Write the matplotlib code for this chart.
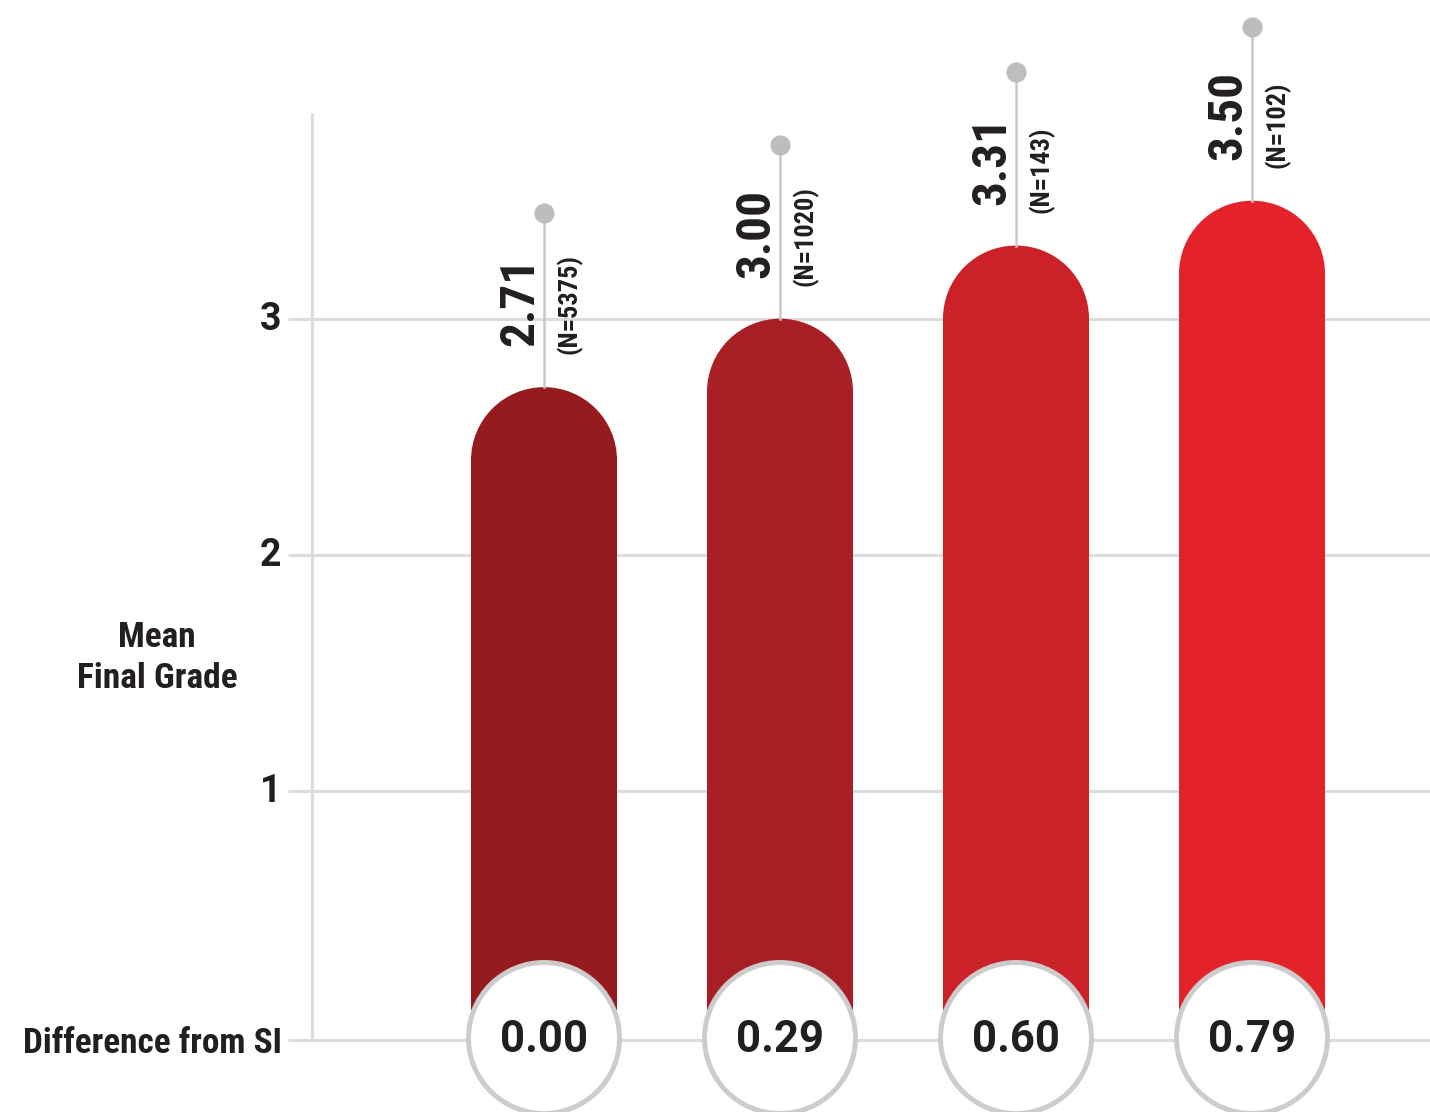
import matplotlib
matplotlib.use("Agg")
import matplotlib.pyplot as plt
from matplotlib import font_manager
from matplotlib.patches import Wedge, Circle

# ---- data -------------------------------------------------------------
groups = ["SI", "A", "B", "C"]
mean_grade = [2.71, 3.00, 3.31, 3.50]
n_students = [5375, 1020, 143, 102]
diff_from_si = [0.00, 0.29, 0.60, 0.79]
y_ticks = [1, 2, 3]
bar_colors = ["#951B1F", "#A81F25", "#CC2129", "#E32229"]

# ---- fonts ------------------------------------------------------------
installed = {f.name for f in font_manager.fontManager.ttflist}
wide = "Roboto" if "Roboto" in installed else "DejaVu Sans"
narrow = next((f for f in ("Roboto Condensed", "Liberation Sans Narrow")
               if f in installed), None)
if narrow is None:
    # no condensed face available: use the regular face a bit smaller
    narrow = wide
    SZ_VALUE, SZ_N, SZ_CAP, SZ_DIFF = 33, 16.5, 23.5, 23
else:
    SZ_VALUE, SZ_N, SZ_CAP, SZ_DIFF = 35.5, 19, 25.5, 25.4

TEXT = "#231F20"
GRID = "#DCDCDC"

# ---- canvas: one data unit = 236 px on both axes ------------------------
W, H, DPI = 1430, 1112, 100
U = 236.0
x0_px, y0_px = 544.0, 1026.7            # pixel position of (group 0, grade 0)

fig = plt.figure(figsize=(W / DPI, H / DPI), dpi=DPI)
ax = fig.add_axes([0, 0, 1, 1])
ax.set_xlim(-x0_px / U, (W - x0_px) / U)
ax.set_ylim((y0_px - H) / U, y0_px / U)
ax.axis("off")

def px(v):
    return v / U

xs = list(range(len(groups)))
base_y = px(y0_px - 1040)               # level of the bottom rule
axis_x = px(312 - x0_px)
grid_x0 = px(288 - x0_px)
right_x = px(W - x0_px)

# gridlines and y axis
for t in y_ticks:
    ax.plot([grid_x0, right_x], [t, t], color=GRID, lw=2.2, zorder=1,
            solid_capstyle="butt")
    ax.text(px(281 - x0_px), t - px(11.5), str(t), ha="right", va="baseline",
            fontsize=27, fontweight="bold", color=TEXT, family=wide)
ax.plot([grid_x0, right_x], [base_y, base_y], color=GRID, lw=2.2, zorder=1,
        solid_capstyle="butt")
ax.plot([axis_x, axis_x], [base_y, px(y0_px - 113)], color=GRID, lw=2.2,
        zorder=1, solid_capstyle="butt")

# axis captions
ax.text(px(157 - x0_px), px(y0_px - 647), "Mean", ha="center", va="baseline",
        fontsize=SZ_CAP, fontweight="bold", color=TEXT, family=narrow)
ax.text(px(157 - x0_px), px(y0_px - 688), "Final Grade", ha="center",
        va="baseline", fontsize=SZ_CAP, fontweight="bold", color=TEXT,
        family=narrow)
ax.text(px(282 - x0_px), px(y0_px - 1053), "Difference from SI", ha="right",
        va="baseline", fontsize=SZ_DIFF, fontweight="bold", color=TEXT,
        family=narrow)

# bars: a square-bottomed column topped by a half circle; the column
# reaches a hair into the cap so no seam shows between the two
bar_w = px(146)
r = bar_w / 2
overlap = px(1.5)
for x, v, c in zip(xs, mean_grade, bar_colors):
    ax.bar(x, (v - r + overlap) - base_y, width=bar_w, bottom=base_y,
           color=c, linewidth=0, zorder=2)
    ax.add_patch(Wedge((x, v - r), r, 0, 180, fc=c, ec="none", zorder=2))

# stems with dots and value / N labels
stem_len = px(174)
for x, v, n in zip(xs, mean_grade, n_students):
    ax.plot([x, x], [v, v + stem_len], color="#C8C8C8", lw=1.8, zorder=3)
    ax.plot([x], [v + stem_len], "o", ms=14.5, mfc="#BDBDBD", mec="none",
            zorder=4)
    ax.text(x - px(1), v + px(41), f"{v:.2f}", rotation=90, ha="right",
            va="bottom", fontsize=SZ_VALUE, fontweight="bold", color=TEXT,
            family=narrow, zorder=5)
    ax.text(x + px(12), v + px(33), f"(N={n})", rotation=90, ha="left",
            va="bottom", fontsize=SZ_N, fontweight="bold", color=TEXT,
            family=narrow, zorder=5)

# difference badges
circ_y = px(y0_px - 1038)
for x, d in zip(xs, diff_from_si):
    ax.add_patch(Circle((x, circ_y), px(75.5), fc="white", ec="#CCCCCC",
                        lw=3.6, zorder=6))
    ax.text(x, px(y0_px - 1052), f"{d:.2f}", ha="center", va="baseline",
            fontsize=31.5, fontweight="bold", color=TEXT, family=wide,
            zorder=7)

fig.savefig("out.png", dpi=DPI, facecolor="white")
